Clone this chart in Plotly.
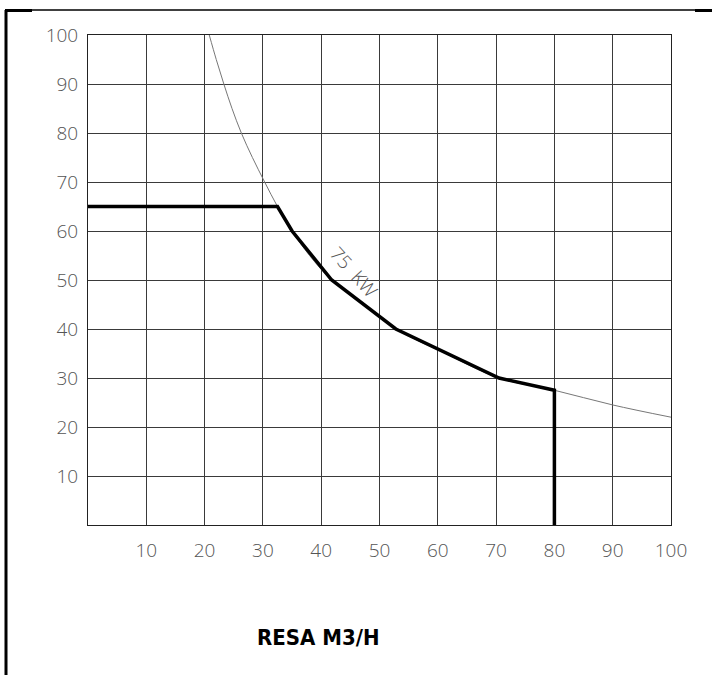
import plotly.graph_objects as go

# Data
limit_x = [0, 32.5, 35, 41.8, 52.8, 70.5, 80, 80]
limit_y = [65, 65, 60, 50, 40, 30, 27.5, 0]

power_x = [20.8, 22, 23.3, 24.7, 26.3, 28.2, 30.3, 32.5, 35, 38, 41.8, 47, 52.8, 61, 70.5, 80, 90, 100]
power_y = [100, 95, 90, 85, 80, 75, 70, 65, 60, 55, 50, 45.5, 40, 35.2, 30, 27.5, 24.5, 22]
power_label = "75  KW"

x_ticks = [10, 20, 30, 40, 50, 60, 70, 80, 90, 100]
y_ticks = [10, 20, 30, 40, 50, 60, 70, 80, 90, 100]
x_title = "RESA M3/H"

W, H = 712, 675
L, R, T, B = 88, 41, 35, 150
pw, ph = W - L - R, H - T - B

def px(x):
    return (x - L) / pw

def py(y):
    return (H - B - y) / ph

tick_font = dict(family="Open Sans", size=19, color="#555555", weight=300)

fig = go.Figure()
fig.add_trace(go.Scatter(x=power_x, y=power_y, mode="lines", line=dict(color="#777777", width=1, shape="spline"),
                         hoverinfo="skip", showlegend=False))
fig.add_trace(go.Scatter(x=limit_x, y=limit_y, mode="lines", line=dict(color="black", width=3.5),
                         showlegend=False))

fig.add_annotation(x=45.6, y=51.6, xref="x", yref="y", text=power_label, showarrow=False, textangle=48,
                   font=dict(family="Open Sans", size=19, color="#555555", weight=300))
fig.add_annotation(x=px(318), y=py(637), xref="paper", yref="paper", text=x_title, showarrow=False,
                   xanchor="center", yanchor="middle",
                   font=dict(family="DejaVu Sans Condensed", size=22, color="black", weight="bold"))

# Frame
fig.add_shape(type="line", xref="paper", yref="paper", x0=px(6), x1=px(6), y0=py(10), y1=py(676),
              line=dict(color="black", width=3))
fig.add_shape(type="line", xref="paper", yref="paper", x0=px(5), x1=px(712), y0=py(10), y1=py(10),
              line=dict(color="black", width=1.5))
fig.add_shape(type="line", xref="paper", yref="paper", x0=px(5), x1=px(32), y0=py(10.5), y1=py(10.5),
              line=dict(color="black", width=3))
fig.add_shape(type="line", xref="paper", yref="paper", x0=px(695), x1=px(712), y0=py(10.5), y1=py(10.5),
              line=dict(color="black", width=3))

axis_common = dict(range=[0, 100], showgrid=True, gridcolor="#3a3a3a", gridwidth=1, zeroline=False,
                   showline=True, linecolor="#222222", linewidth=1, mirror=True, ticks="",
                   tickfont=tick_font, fixedrange=True)

fig.update_xaxes(tickvals=x_ticks, ticklabelstandoff=8, **axis_common)
fig.update_yaxes(tickvals=y_ticks, ticklabelstandoff=5, **axis_common)

fig.update_layout(width=W, height=H, margin=dict(l=L, r=R, t=T, b=B, autoexpand=False),
                  paper_bgcolor="white", plot_bgcolor="white")

fig.write_html("out.html", config={"displayModeBar": False},
               post_script="document.body.style.margin='0px';")
